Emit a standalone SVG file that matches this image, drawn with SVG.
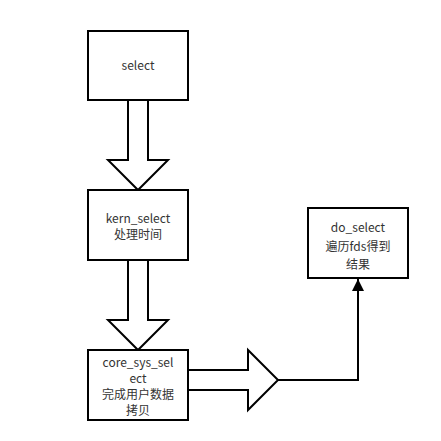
<svg xmlns="http://www.w3.org/2000/svg" width="441" height="441" viewBox="0 0 441 441">
<style>
.box{fill:#fff;stroke:#000;stroke-width:2}
.big{fill:#fff;stroke:#000;stroke-width:2;stroke-linejoin:miter}
.lbl{font-family:"Noto Sans CJK SC","Liberation Sans",sans-serif;font-size:12px;fill:#333;text-anchor:middle}
.ln{fill:none;stroke:#000;stroke-width:2}
</style>
<defs>
<marker id="ah" viewBox="0 0 12 16" refX="12" refY="8" markerWidth="12" markerHeight="16" markerUnits="userSpaceOnUse" orient="auto">
<path d="M0,2 L12,8 L0,14 Z" fill="#000"/>
</marker>
</defs>
<rect width="441" height="441" fill="#fff"/>
<g id="connectors">
<polygon class="big" points="128,100 128,160 108,160 138,190 168,160 148,160 148,100"/>
<polygon class="big" points="128,260 128,320 108,320 138,350 168,320 148,320 148,260"/>
<polygon class="big" points="188,370 248,370 248,350 278,380 248,410 248,390 188,390"/>
<path class="ln" d="M278,380 H358 V279" marker-end="url(#ah)"/>
</g>
<g id="select">
<rect class="box" x="88" y="31" width="100" height="69"/>
<text class="lbl" x="138" y="70">select</text>
</g>
<g id="kern_select">
<rect class="box" x="88" y="190" width="100" height="70"/>
<text class="lbl" x="138" y="223">kern_select</text>
<text class="lbl" x="138" y="239">处理时间</text>
</g>
<g id="core_sys_select">
<rect class="box" x="88" y="350" width="100" height="70"/>
<text class="lbl" x="138" y="367">core_sys_sel</text>
<text class="lbl" x="138" y="383">ect</text>
<text class="lbl" x="138" y="399">完成用户数据</text>
<text class="lbl" x="138" y="415">拷贝</text>
</g>
<g id="do_select">
<rect class="box" x="308" y="208" width="100" height="70"/>
<text class="lbl" x="358" y="232">do_select</text>
<text class="lbl" x="358" y="251">遍历fds得到</text>
<text class="lbl" x="358" y="269">结果</text>
</g>
</svg>
